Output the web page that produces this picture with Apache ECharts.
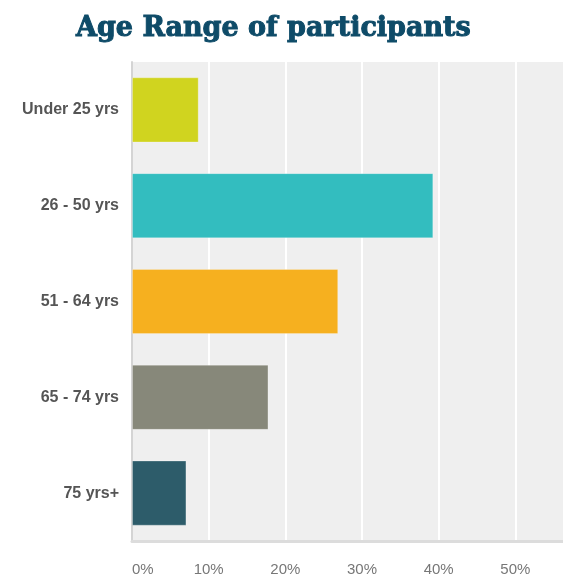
<!DOCTYPE html>
<html>
<head>
<meta charset="utf-8">
<script src="https://cdn.jsdelivr.net/npm/echarts@6/dist/echarts.min.js"></script>
<style>
  html, body { margin: 0; padding: 0; background: #ffffff; }
  #chart { width: 563px; height: 577px; }
</style>
</head>
<body>
<div id="chart"></div>
<script>
// Survey: share of participants per age bracket (percent)
const categories = ['Under 25 yrs', '26 - 50 yrs', '51 - 64 yrs', '65 - 74 yrs', '75 yrs+'];
const shares = [8.7, 39.3, 26.9, 17.8, 7.1];
const barColors = ['#d0d41f', '#33bdbf', '#f6b01f', '#87887a', '#2d5c6a'];
const tickValues = [0, 10, 20, 30, 40, 50, 60];

const chart = echarts.init(document.getElementById('chart'), null, { renderer: 'canvas' });

chart.setOption({
  animation: false,
  title: {
    text: 'Age Range of participants',
    left: 71,
    top: 10,
    textStyle: {
      fontFamily: 'DejaVu Serif',
      fontWeight: 'bold',
      fontSize: 27,
      color: '#0e4b68',
      textBorderColor: '#0e4b68',
      textBorderWidth: 1
    }
  },
  // the plot runs on past the right edge of the canvas
  grid: {
    left: 132,
    width: 460,
    top: 62,
    bottom: 36,
    containLabel: false,
    outerBoundsMode: 'none',
    show: true,
    backgroundColor: '#efefef',
    borderWidth: 0
  },
  xAxis: {
    type: 'value',
    min: tickValues[0],
    max: tickValues[tickValues.length - 1],
    interval: 10,
    axisLine: { show: true, lineStyle: { color: '#dcdcdc', width: 3 } },
    axisTick: { show: false },
    splitLine: { show: true, lineStyle: { color: '#ffffff', width: 2 } },
    axisLabel: {
      formatter: '{value}%',
      color: '#777777',
      fontFamily: 'Liberation Sans, Arial, sans-serif',
      fontSize: 15,
      margin: 21,
      alignMinLabel: 'left'
    }
  },
  yAxis: {
    type: 'category',
    data: categories,
    inverse: true,
    axisLine: { show: true, lineStyle: { color: '#d4d4d4', width: 2 } },
    axisTick: { show: false },
    splitLine: { show: false },
    axisLabel: {
      color: '#555555',
      fontFamily: 'Liberation Sans, Arial, sans-serif',
      fontWeight: 'bold',
      fontSize: 16,
      margin: 13
    }
  },
  series: [{
    type: 'bar',
    data: shares.map((v, i) => ({ value: v, itemStyle: { color: barColors[i] } })),
    barWidth: '68%',
    itemStyle: { borderColor: 'rgba(255,255,255,0.25)', borderWidth: 1 }
  }]
});
</script>
</body>
</html>
